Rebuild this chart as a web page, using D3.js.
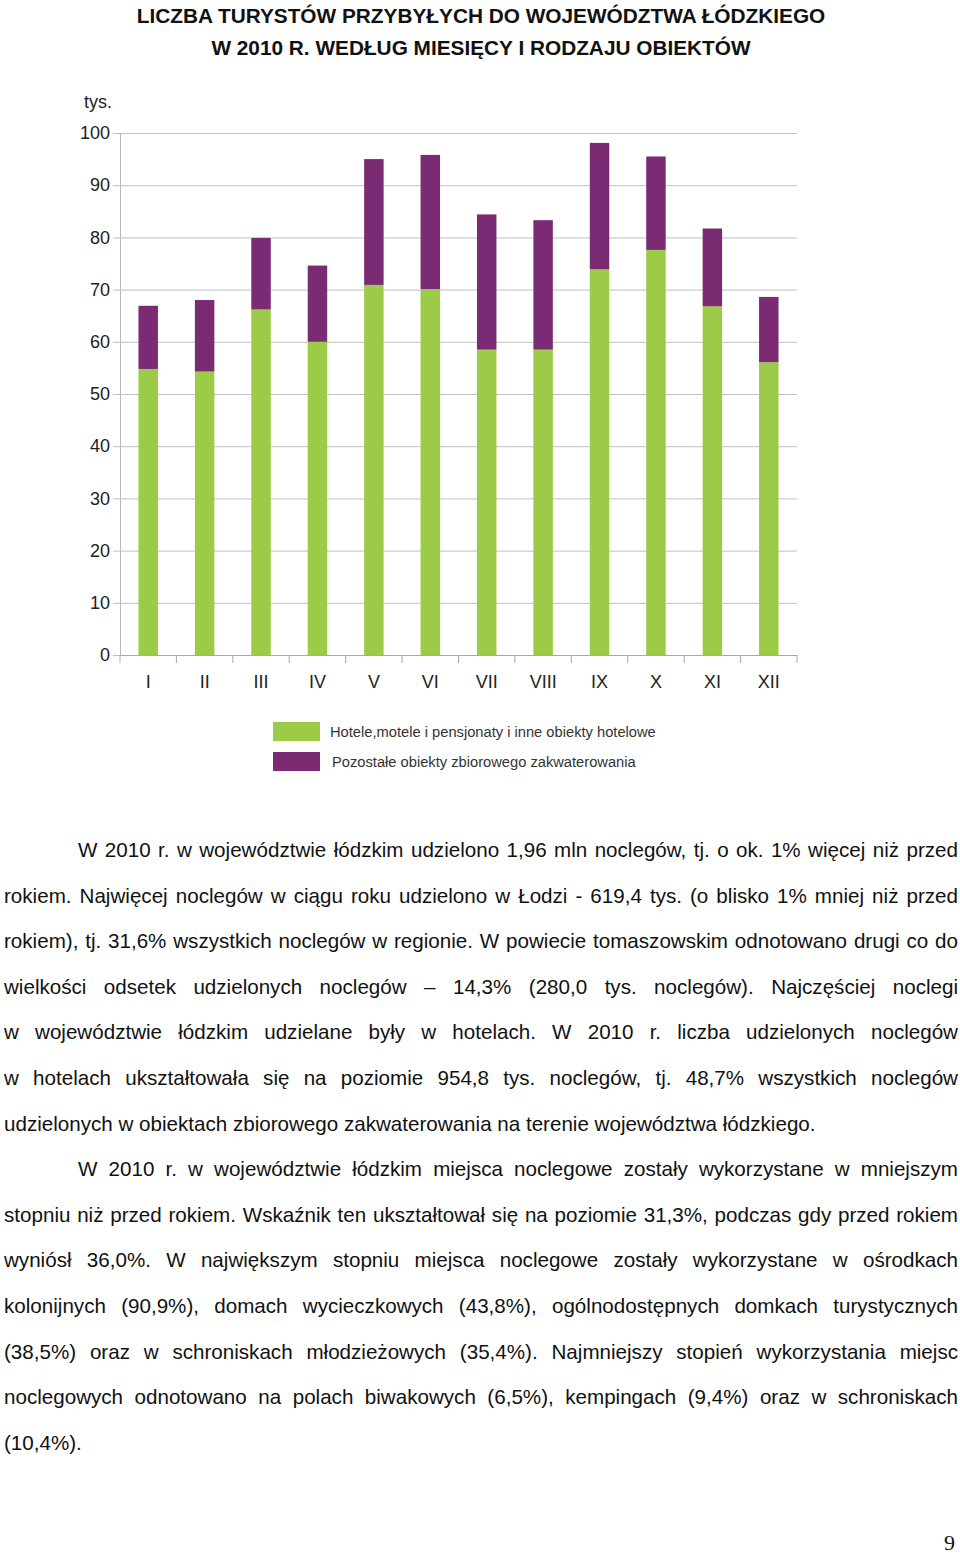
<!DOCTYPE html>
<html>
<head>
<meta charset="utf-8">
<script src="https://cdn.jsdelivr.net/npm/d3@7"></script>
<style>
  body { margin: 0; background: #fff; }
  svg { display: block; }
</style>
</head>
<body>
<script>
/* Data */
const months = ["I", "II", "III", "IV", "V", "VI", "VII", "VIII", "IX", "X", "XI", "XII"];
const hotels = [54.8, 54.3, 66.2, 60.0, 70.9, 70.1, 58.5, 58.5, 73.9, 77.6, 66.8, 56.1];
const others = [12.1, 13.7, 13.7, 14.6, 24.1, 25.7, 25.9, 24.8, 24.2, 17.9, 14.9, 12.5];
const yTicks = [0, 10, 20, 30, 40, 50, 60, 70, 80, 90, 100];
const seriesNames = ["Hotele,motele i pensjonaty i inne obiekty hotelowe", "Pozostałe obiekty zbiorowego zakwaterowania"];
const seriesColors = ["#9ccb47", "#7b2a74"];
const titleLines = [
	"LICZBA TURYSTÓW PRZYBYŁYCH DO WOJEWÓDZTWA ŁÓDZKIEGO",
	"W 2010 R. WEDŁUG MIESIĘCY I RODZAJU OBIEKTÓW"
];
// body text: [line, indent, justified]
const bodyLines = [
	["W 2010 r. w województwie łódzkim udzielono 1,96 mln noclegów, tj. o ok. 1% więcej niż przed", true, true],
	["rokiem. Najwięcej noclegów w ciągu roku udzielono w Łodzi - 619,4 tys. (o blisko 1% mniej niż przed", false, true],
	["rokiem), tj. 31,6% wszystkich noclegów w regionie. W powiecie tomaszowskim odnotowano drugi co do", false, true],
	["wielkości odsetek udzielonych noclegów – 14,3% (280,0 tys. noclegów). Najczęściej noclegi", false, true],
	["w województwie łódzkim udzielane były w hotelach. W 2010 r. liczba udzielonych noclegów", false, true],
	["w hotelach ukształtowała się na poziomie 954,8 tys. noclegów, tj. 48,7% wszystkich noclegów", false, true],
	["udzielonych w obiektach zbiorowego zakwaterowania na terenie województwa łódzkiego.", false, false],
	["W 2010 r. w województwie łódzkim miejsca noclegowe zostały wykorzystane w mniejszym", true, true],
	["stopniu niż przed rokiem. Wskaźnik ten ukształtował się na poziomie 31,3%, podczas gdy przed rokiem", false, true],
	["wyniósł 36,0%. W największym stopniu miejsca noclegowe zostały wykorzystane w ośrodkach", false, true],
	["kolonijnych (90,9%), domach wycieczkowych (43,8%), ogólnodostępnych domkach turystycznych", false, true],
	["(38,5%) oraz w schroniskach młodzieżowych (35,4%). Najmniejszy stopień wykorzystania miejsc", false, true],
	["noclegowych odnotowano na polach biwakowych (6,5%), kempingach (9,4%) oraz w schroniskach", false, true],
	["(10,4%).", false, false]
];

const width = 960, height = 1554;
const font = "'Liberation Sans', Arial, sans-serif";

const svg = d3.select("body").append("svg")
	.attr("width", width)
	.attr("height", height)
	.style("font-family", font);

/* Title */
svg.selectAll(".title")
	.data(titleLines)
	.enter().append("text")
	.attr("class", "title")
	.attr("x", 481)
	.attr("y", (d, i) => 23 + i * 32)
	.attr("text-anchor", "middle")
	.attr("font-size", 20.8)
	.attr("font-weight", "bold")
	.attr("fill", "#111")
	.text((d) => d);

/* Scales */
const plot = { left: 120, right: 797, top: 133, bottom: 655 };

const x = d3.scaleBand()
	.domain(months)
	.range([plot.left, plot.right])
	.paddingInner(0.655)
	.paddingOuter(0.3275);

const y = d3.scaleLinear()
	.domain([0, 100])
	.range([plot.bottom, plot.top]);

/* Grid + y labels */
const yAxis = svg.append("g")
	.attr("transform", `translate(${plot.left},0)`)
	.call(d3.axisLeft(y).tickValues(yTicks).tickSize(-(plot.right - plot.left)).tickSizeOuter(0).tickPadding(10));
yAxis.select(".domain").attr("stroke", "#b8b8b8");
yAxis.selectAll(".tick line").attr("stroke", "#c0c0c0").attr("x1", -7);
yAxis.selectAll(".tick text")
	.attr("font-size", 18)
	.attr("font-family", font)
	.attr("fill", "#222")
	.attr("x", -10);

svg.append("text")
	.attr("x", 112)
	.attr("y", 108)
	.attr("text-anchor", "end")
	.attr("font-size", 18)
	.attr("fill", "#222")
	.text("tys.");

/* Stacked bars */
const stackData = months.map((m, i) => ({ month: m, hotels: hotels[i], others: others[i] }));
const stack = d3.stack().keys(["hotels", "others"]);
const layers = stack(stackData);

svg.append("g")
	.selectAll("g")
	.data(layers)
	.enter().append("g")
	.attr("fill", (d, i) => seriesColors[i])
	.selectAll("rect")
	.data((d) => d)
	.enter().append("rect")
	.attr("x", (d) => x(d.data.month))
	.attr("width", x.bandwidth())
	.attr("y", (d) => y(d[1]))
	.attr("height", (d) => y(d[0]) - y(d[1]));

/* X axis */
const xAxis = svg.append("g")
	.attr("transform", `translate(0,${plot.bottom})`)
	.call(d3.axisBottom(x).tickSize(0).tickPadding(20));
xAxis.select(".domain").attr("stroke", "#a8a8a8");
xAxis.selectAll(".tick text")
	.attr("font-size", 18)
	.attr("font-family", font)
	.attr("fill", "#222");

const step = x.step();
xAxis.selectAll(".bound")
	.data(d3.range(months.length + 1))
	.enter().append("line")
	.attr("class", "bound")
	.attr("x1", (d) => plot.left + d * step)
	.attr("x2", (d) => plot.left + d * step)
	.attr("y1", 0)
	.attr("y2", 8)
	.attr("stroke", "#a8a8a8");

/* Legend */
const legend = svg.append("g")
	.selectAll("g")
	.data(seriesNames)
	.enter().append("g")
	.attr("transform", (d, i) => `translate(273,${722 + i * 30})`);

legend.append("rect")
	.attr("width", 47)
	.attr("height", 19)
	.attr("fill", (d, i) => seriesColors[i]);

legend.append("text")
	.attr("x", (d, i) => 57 + i * 2)
	.attr("y", 15)
	.attr("font-size", 14.7)
	.attr("fill", "#333")
	.text((d) => d);

/* Body text, justified */
const textLeft = 4, textRight = 958, indent = 74;
const body = svg.append("g")
	.attr("font-size", 20.6)
	.attr("fill", "#111");

bodyLines.forEach(([line, ind, just], i) => {
	const yy = 857 + i * 45.6;
	const x0 = textLeft + (ind ? indent : 0);
	const words = line.split(" ");
	const nodes = words.map((w) => body.append("text").attr("y", yy).text(w));
	const widths = nodes.map((n) => n.node().getComputedTextLength());
	const space = just && words.length > 1
		? (textRight - x0 - d3.sum(widths)) / (words.length - 1)
		: 5.7;
	let cx = x0;
	nodes.forEach((n, k) => {
		n.attr("x", cx);
		cx += widths[k] + space;
	});
});

/* Page number */
svg.append("text")
	.attr("x", 955)
	.attr("y", 1550)
	.attr("text-anchor", "end")
	.attr("font-family", "'Liberation Serif', 'DejaVu Serif', serif")
	.attr("font-size", 22)
	.attr("fill", "#111")
	.text("9");
</script>
</body>
</html>
